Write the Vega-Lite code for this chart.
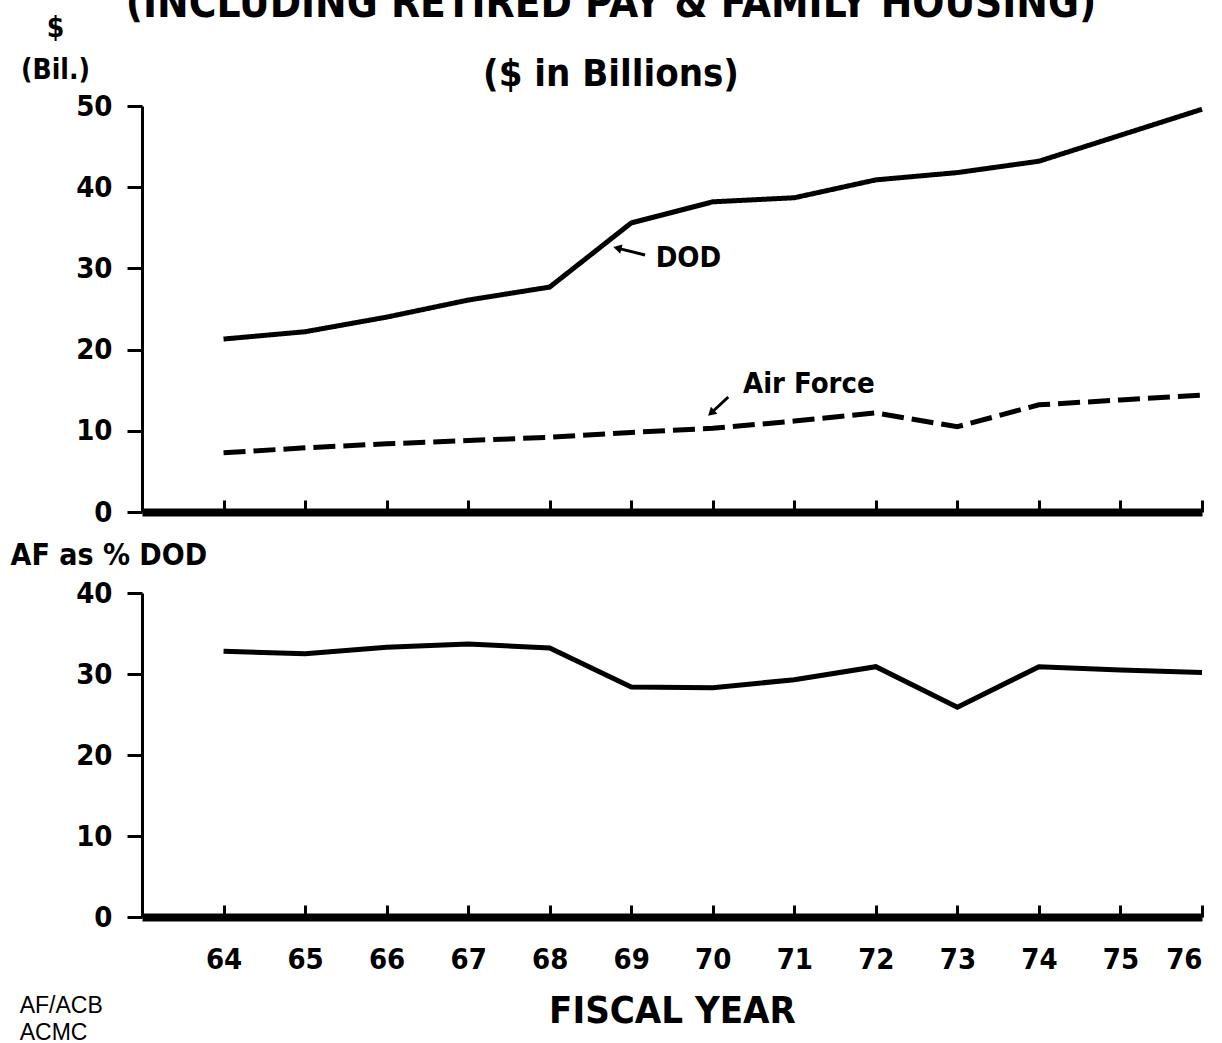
{
  "$schema": "https://vega.github.io/schema/vega-lite/v6.json",
  "background": "white",
  "padding": {"left": 10, "top": -17, "right": 4, "bottom": 0},
  "config": {
    "view": {"stroke": null},
    "font": "DejaVu Sans Condensed",
    "axis": {
      "grid": false,
      "domainColor": "black",
      "tickColor": "black",
      "labelColor": "black",
      "titleColor": "black",
      "labelFont": "DejaVu Sans Condensed",
      "titleFont": "DejaVu Sans Condensed",
      "labelFontWeight": "bold",
      "titleFontWeight": "bold"
    }
  },
  "title": {
    "text": "(INCLUDING RETIRED PAY & FAMILY HOUSING)",
    "subtitle": "($ in Billions)",
    "font": "DejaVu Sans Condensed",
    "subtitleFont": "DejaVu Sans Condensed",
    "fontWeight": "bold",
    "subtitleFontWeight": "bold",
    "fontSize": 42,
    "subtitleFontSize": 38,
    "color": "black",
    "subtitleColor": "black",
    "anchor": "middle",
    "subtitlePadding": 30,
    "dy": 85
  },
  "datasets": {
    "spend": [
      {"fy": 64, "series": "DOD", "value": 21.3},
      {"fy": 65, "series": "DOD", "value": 22.2},
      {"fy": 66, "series": "DOD", "value": 24.0},
      {"fy": 67, "series": "DOD", "value": 26.1},
      {"fy": 68, "series": "DOD", "value": 27.7},
      {"fy": 69, "series": "DOD", "value": 35.6},
      {"fy": 70, "series": "DOD", "value": 38.2},
      {"fy": 71, "series": "DOD", "value": 38.7},
      {"fy": 72, "series": "DOD", "value": 40.9},
      {"fy": 73, "series": "DOD", "value": 41.8},
      {"fy": 74, "series": "DOD", "value": 43.2},
      {"fy": 75, "series": "DOD", "value": 46.4},
      {"fy": 76, "series": "DOD", "value": 49.6},
      {"fy": 64, "series": "Air Force", "value": 7.3},
      {"fy": 65, "series": "Air Force", "value": 7.9},
      {"fy": 66, "series": "Air Force", "value": 8.4},
      {"fy": 67, "series": "Air Force", "value": 8.8},
      {"fy": 68, "series": "Air Force", "value": 9.2},
      {"fy": 69, "series": "Air Force", "value": 9.8},
      {"fy": 70, "series": "Air Force", "value": 10.3},
      {"fy": 71, "series": "Air Force", "value": 11.2},
      {"fy": 72, "series": "Air Force", "value": 12.2},
      {"fy": 73, "series": "Air Force", "value": 10.5},
      {"fy": 74, "series": "Air Force", "value": 13.2},
      {"fy": 75, "series": "Air Force", "value": 13.8},
      {"fy": 76, "series": "Air Force", "value": 14.4}
    ],
    "pct": [
      {"fy": 64, "pct": 32.8},
      {"fy": 65, "pct": 32.5},
      {"fy": 66, "pct": 33.3},
      {"fy": 67, "pct": 33.7},
      {"fy": 68, "pct": 33.2},
      {"fy": 69, "pct": 28.4},
      {"fy": 70, "pct": 28.3},
      {"fy": 71, "pct": 29.3},
      {"fy": 72, "pct": 30.9},
      {"fy": 73, "pct": 25.9},
      {"fy": 74, "pct": 30.9},
      {"fy": 75, "pct": 30.5},
      {"fy": 76, "pct": 30.2}
    ],
    "labels": [
      {"x": 69.3, "y": 31.3, "text": "DOD"},
      {"x": 70.37, "y": 15.8, "text": "Air Force"}
    ],
    "arrows": [
      {"name": "DOD", "x": 69.17, "y": 31.65, "x2": 68.83, "y2": 32.5},
      {"name": "Air Force", "x": 70.19, "y": 14.16, "x2": 69.98, "y2": 12.19}
    ],
    "credit": [
      {"x": 61.5, "y": -11.8, "text": "AF/ACB"},
      {"x": 61.5, "y": -15.2, "text": "ACMC"}
    ]
  },
  "spacing": 81,
  "bounds": "flush",
  "vconcat": [
    {
      "width": 1060,
      "height": 406,
      "layer": [
        {
          "data": {"name": "spend"},
          "mark": {"type": "line", "strokeWidth": 5, "color": "black", "strokeCap": "butt"},
          "encoding": {
            "x": {
              "field": "fy", "type": "quantitative",
              "scale": {"domain": [63, 76], "nice": false, "zero": false},
              "axis": {"values": [64, 65, 66, 67, 68, 69, 70, 71, 72, 73, 74, 75, 76], "labels": false, "title": null, "tickSize": -12, "tickWidth": 3, "domainWidth": 8}
            },
            "y": {
              "field": "value", "type": "quantitative",
              "scale": {"domain": [0, 50], "nice": false},
              "axis": {
                "values": [0, 10, 20, 30, 40, 50],
                "title": ["$", "(Bil.)"],
                "titleAngle": 0, "titleAlign": "center", "titleBaseline": "top",
                "titleX": -87, "titleY": -92, "titleFontSize": 28, "titleLineHeight": 42,
                "labelFontSize": 29, "tickSize": 15, "tickWidth": 3, "labelPadding": 15, "domainWidth": 3
              }
            },
            "strokeDash": {
              "field": "series", "type": "nominal",
              "scale": {"domain": ["DOD", "Air Force"], "range": [[1, 0], [22, 8]]},
              "legend": null
            }
          }
        },
        {
          "data": {"name": "labels"},
          "mark": {"type": "text", "align": "left", "baseline": "middle", "fontSize": 29, "fontWeight": "bold", "font": "DejaVu Sans Condensed", "color": "black"},
          "encoding": {
            "x": {"field": "x", "type": "quantitative"},
            "y": {"field": "y", "type": "quantitative"},
            "text": {"field": "text"}
          }
        },
        {
          "data": {"name": "arrows"},
          "mark": {"type": "rule", "strokeWidth": 3, "color": "black"},
          "encoding": {
            "x": {"field": "x", "type": "quantitative"},
            "y": {"field": "y", "type": "quantitative"},
            "x2": {"field": "x2"},
            "y2": {"field": "y2"}
          }
        },
        {
          "data": {"name": "arrows"},
          "transform": [{"filter": "datum.name === 'DOD'"}],
          "mark": {"type": "point", "shape": "triangle-up", "filled": true, "size": 90, "color": "black", "opacity": 1, "angle": 284},
          "encoding": {
            "x": {"field": "x2", "type": "quantitative"},
            "y": {"field": "y2", "type": "quantitative"}
          }
        },
        {
          "data": {"name": "arrows"},
          "transform": [{"filter": "datum.name === 'Air Force'"}],
          "mark": {"type": "point", "shape": "triangle-up", "filled": true, "size": 90, "color": "black", "opacity": 1, "angle": 227},
          "encoding": {
            "x": {"field": "x2", "type": "quantitative"},
            "y": {"field": "y2", "type": "quantitative"}
          }
        }
      ]
    },
    {
      "width": 1060,
      "height": 324,
      "layer": [
        {
          "data": {"name": "pct"},
          "mark": {"type": "line", "strokeWidth": 5, "color": "black", "strokeCap": "butt"},
          "encoding": {
            "x": {
              "field": "fy", "type": "quantitative",
              "scale": {"domain": [63, 76], "nice": false, "zero": false},
              "axis": {
                "values": [64, 65, 66, 67, 68, 69, 70, 71, 72, 73, 74, 75, 76],
                "format": "d", "labelFontSize": 29, "labelPadding": 40,
                "tickSize": -12, "tickWidth": 3, "domainWidth": 8,
                "title": "FISCAL YEAR", "titleFontSize": 38, "titlePadding": 18
              }
            },
            "y": {
              "field": "pct", "type": "quantitative",
              "scale": {"domain": [0, 40], "nice": false},
              "axis": {
                "values": [0, 10, 20, 30, 40],
                "title": "AF as % DOD",
                "titleAngle": 0, "titleAlign": "left", "titleBaseline": "middle",
                "titleX": -132, "titleY": -38, "titleFontSize": 30,
                "labelFontSize": 29, "tickSize": 15, "tickWidth": 3, "labelPadding": 15, "domainWidth": 3
              }
            }
          }
        },
        {
          "data": {"name": "credit"},
          "mark": {"type": "text", "align": "left", "baseline": "alphabetic", "fontSize": 23, "font": "Liberation Sans", "color": "black"},
          "encoding": {
            "x": {"field": "x", "type": "quantitative"},
            "y": {"field": "y", "type": "quantitative"},
            "text": {"field": "text"}
          }
        }
      ]
    }
  ]
}
